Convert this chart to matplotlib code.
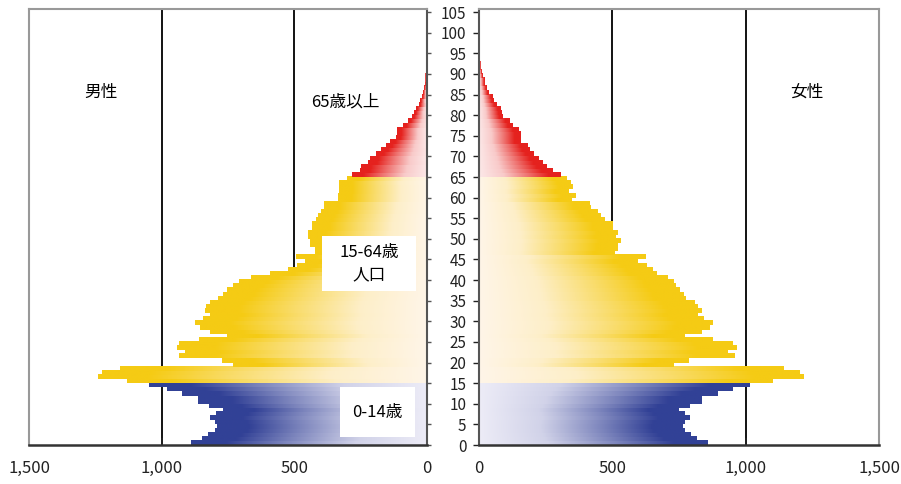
import numpy as np
import matplotlib
matplotlib.use("Agg")
import matplotlib.pyplot as plt
from matplotlib.colors import LinearSegmentedColormap
from matplotlib.patches import Rectangle
from matplotlib.ticker import FuncFormatter

plt.rcParams["font.family"] = ["Noto Sans CJK JP", "DejaVu Sans"]

# population by single year of age (0..95)
ages = list(range(96))
male = [
    889, 848, 825, 798, 792, 798, 817, 795, 769, 821,
    863, 863, 923, 980, 1048, 1131, 1240, 1225, 1157, 730,
    772, 934, 912, 942, 934, 859, 754, 817, 855, 874,
    844, 817, 836, 832, 817, 787, 769, 754, 730, 707,
    663, 591, 522, 491, 459, 494, 421, 423, 440, 442,
    447, 447, 432, 432, 418, 409, 400, 390, 390, 337,
    337, 333, 333, 331, 303, 281, 251, 247, 224, 214,
    194, 174, 154, 138, 116, 113, 113, 91, 73, 57,
    48, 40, 32, 25, 19, 15, 13, 9, 7, 6,
    4, 2, 2, 1, 1, 1,
]
female = [
    856, 815, 793, 770, 763, 770, 789, 770, 748, 789,
    834, 834, 894, 950, 1014, 1100, 1216, 1201, 1141, 729,
    785, 958, 931, 965, 950, 875, 770, 834, 864, 875,
    841, 818, 834, 818, 807, 774, 766, 751, 736, 731,
    706, 664, 650, 627, 593, 624, 508, 519, 521, 530,
    511, 519, 499, 499, 470, 455, 444, 417, 414, 346,
    361, 336, 352, 342, 327, 307, 274, 252, 240, 225,
    206, 189, 181, 155, 155, 157, 150, 127, 116, 90,
    86, 79, 67, 56, 49, 37, 30, 22, 19, 15,
    11, 7, 4, 2, 1, 1,
]
x_ticks = [0, 500, 1000, 1500]
y_ticks = list(range(0, 106, 5))


def make_cmap(name, light, dark):
    light = np.array(light) / 255
    dark = np.array(dark) / 255
    stops = [(0.0, 0.0), (0.3, 0.15), (0.6, 0.6), (0.85, 1.0), (1.0, 1.0)]
    return LinearSegmentedColormap.from_list(
        name, [(p, tuple(light + (dark - light) * f)) for p, f in stops]
    )


cm_old = make_cmap("old", (252, 232, 232), (229, 34, 30))
cm_work = make_cmap("work", (255, 245, 232), (245, 203, 20))
cm_young = make_cmap("young", (237, 236, 247), (50, 65, 150))
GRAD = np.linspace(0, 1, 256).reshape(1, -1)


def group_cmap(age):
    if age >= 65:
        return cm_old
    if age >= 15:
        return cm_work
    return cm_young


def draw_side(ax, values):
    # each bar gets its own light-to-dark gradient along its length
    for a, v in zip(ages, values):
        ax.imshow(GRAD, cmap=group_cmap(a), extent=[0, v, a, a + 1],
                  aspect="auto", interpolation="bilinear", origin="lower", zorder=2)
    for g in (500, 1000):
        ax.axvline(g, color="black", lw=1.3, zorder=1)
    ax.set_ylim(0, 105.75)
    ax.set_yticks(y_ticks)
    ax.set_xticks(x_ticks)
    ax.xaxis.set_major_formatter(FuncFormatter(lambda x, p: f"{x:,.0f}"))
    ax.tick_params(axis="x", direction="in", length=5, width=1.2, pad=11,
                   labelsize=12, colors="#222222")
    for s in ax.spines.values():
        s.set_color("#999999")
        s.set_linewidth(1.5)
    ax.spines["bottom"].set_color("#333333")
    ax.spines["bottom"].set_linewidth(1.8)


def label_box(ax, x0, x1, y0, y1):
    ax.add_patch(Rectangle((x0, y0), x1 - x0, y1 - y0, facecolor="white",
                           edgecolor="none", zorder=3))


fig = plt.figure(figsize=(9.01, 4.84), dpi=100)
axl = fig.add_axes([29 / 901, 39 / 484, 398 / 901, 436 / 484])
axr = fig.add_axes([479 / 901, 39 / 484, 400 / 901, 436 / 484])

draw_side(axl, male)
axl.set_xlim(1500, 0)
axl.yaxis.tick_right()
axl.tick_params(axis="y", direction="out", length=3, width=1, labelright=False,
                colors="#555555")
axl.spines["right"].set_color("#555555")

draw_side(axr, female)
axr.set_xlim(0, 1500)
axr.tick_params(axis="y", direction="out", length=4, width=1, pad=5,
                labelsize=11, colors="#222222")
axr.spines["left"].set_color("#555555")

axl.text(1230, 85.5, "男性", fontsize=12, ha="center", va="center")
axl.text(308, 83.3, "65歳以上", fontsize=12, ha="center", va="center")

label_box(axl, 395, 40, 37.3, 50.7)
axl.text(217, 46.8, "15-64歳", fontsize=12, ha="center", va="center", zorder=4)
axl.text(217, 41.2, "人口", fontsize=12, ha="center", va="center", zorder=4)

label_box(axl, 327, 44, 1.9, 14.1)
axl.text(187, 8, "0-14歳", fontsize=12, ha="center", va="center", zorder=4)

axr.text(1230, 85.5, "女性", fontsize=12, ha="center", va="center")

fig.savefig("out.png", dpi=100)
